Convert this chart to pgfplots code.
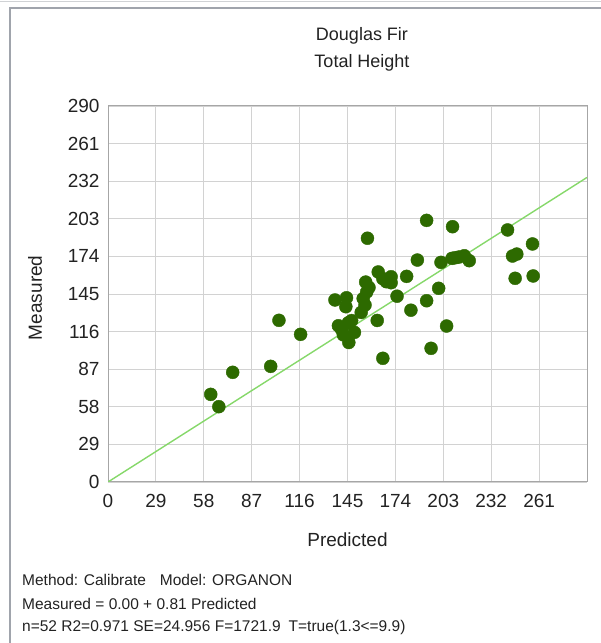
\documentclass[border=0pt]{standalone}
\usepackage{pgfplots}
\pgfplotsset{compat=1.18}
\usepackage{fontspec}
\setmainfont{Liberation Sans}

\definecolor{dotgreen}{HTML}{2D6A00}
\definecolor{fitgreen}{HTML}{86D86A}
\definecolor{gridgray}{HTML}{D2D2D2}
\definecolor{boxgray}{HTML}{A6A6A6}
\definecolor{framegray}{HTML}{A0A4AC}
\definecolor{txt}{HTML}{222222}

\pgfplotstableread{
x y
62.2 67.6
67.1 58.1
75.5 84.6
98.5 89.2
103.5 124.7
116.6 113.9
137.4 140.4
144.4 142.1
144.0 135.2
139.5 120.5
145.5 122.8
141.5 117.5
149.2 115.4
145.8 107.6
153.3 130.8
155.6 136.5
156.6 146.5
156.0 154.2
157.1 188.0
163.0 124.6
163.6 162.0
166.4 156.8
171.4 158.3
171.4 153.7
166.4 95.4
175.0 143.3
180.8 158.6
183.4 132.5
187.3 171.2
192.9 201.8
192.9 139.8
195.6 103.1
200.2 149.4
201.6 169.4
205.0 120.3
208.6 196.9
208.3 172.5
210.3 173.0
215.7 174.5
218.7 170.7
241.9 194.4
244.9 174.3
247.5 175.8
246.5 157.1
257.0 183.6
257.4 158.9
142.5 113.5
154.5 141.5
168.5 154.5
212.5 173.5
147.5 124.5
158.0 150.0
}\obs

\begin{document}
\begin{tikzpicture}[x=1pt,y=1pt]
\useasboundingbox (0,0) rectangle (601,643);
\draw[framegray!50, line width=1pt] (0,641) -- (601,641);
\draw[framegray, line width=1.5pt] (10,0) -- (10,635) -- (601,635);

\begin{axis}[
  at={(108pt,161pt)}, anchor=south west,
  scale only axis, width=479pt, height=376pt,
  xmin=0, xmax=290, ymin=0, ymax=290,
  xtick={0,29,...,261}, ytick={0,29,...,290},
  grid=major,
  major grid style={gridgray, line width=0.9pt},
  axis line style={boxgray, line width=1pt},
  tick style={draw=none},
  /pgf/number format/assume math mode=true,
  ticklabel style={font=\fontsize{19}{19}\selectfont, text=txt},
  xticklabel style={yshift=-9pt},
  yticklabel style={xshift=-5pt},
  xlabel={Predicted}, ylabel={Measured},
  label style={font=\fontsize{19}{19}\selectfont, text=txt},
  xlabel style={at={(axis description cs:0.5,-0.154)}, anchor=center},
  ylabel style={at={(axis description cs:-0.152,0.49)}, anchor=center},
]
\addplot[fitgreen, line width=1.4pt] coordinates {(0,0) (290,234.9)};
\addplot[only marks, mark=*, mark size=6.5pt, color=dotgreen,
  mark options={draw=none, fill=dotgreen}] table {\obs};
\end{axis}

\node[font=\fontsize{18}{18}\selectfont, text=txt] at (362,607) {Douglas Fir};
\node[font=\fontsize{18}{18}\selectfont, text=txt] at (362,580) {Total Height};

\begin{scope}[every node/.style={anchor=base west, inner sep=0pt,
  font=\fontsize{15.5}{15.5}\selectfont, text=txt}]
\node at (22,57) {Method: Calibrate\hspace{14pt}Model: ORGANON};
\node at (22,34) {Measured = 0.00 + 0.81 Predicted};
\node at (22,11) {n=52 R2=0.971 SE=24.956 F=1721.9\hspace{8pt}T=true(1.3<=9.9)};
\end{scope}
\end{tikzpicture}
\end{document}
